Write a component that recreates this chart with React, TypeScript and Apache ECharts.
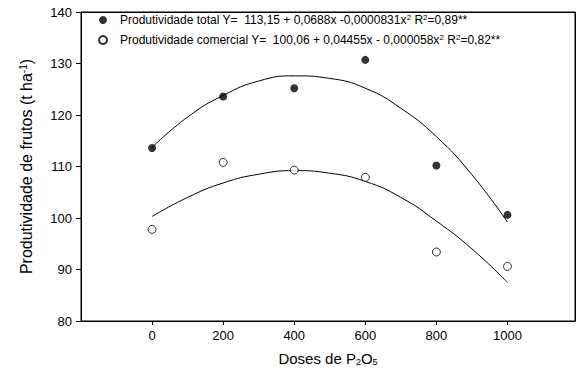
import React, { useEffect, useRef } from "react";
import * as echarts from "echarts";

const FONT = "'Liberation Sans', Arial, sans-serif";

const doses = [0, 200, 400, 600, 800, 1000];
const totalObs = [113.6, 123.6, 125.2, 130.7, 110.2, 100.6];
const comercialObs = [97.8, 110.8, 109.3, 107.9, 93.4, 90.6];

const curveX = [0, 100, 200, 300, 400, 500, 600, 700, 800, 900, 1000];
const totalCurve = [113.7, 119.6, 123.8, 126.6, 127.6, 127.1, 125.2, 121.3, 115.8, 108.4, 99.2];
const comercialCurve = [100.3, 104.0, 106.8, 108.5, 109.2, 108.7, 107.1, 104.0, 99.4, 94.0, 87.5];

const xTicks = [0, 200, 400, 600, 800, 1000];
const yTicks = [80, 90, 100, 110, 120, 130, 140];

const NAME_TOTAL = "Produtividade total";
const NAME_COM = "Produtividade comercial";
const legendTotal = "{t|Produtividade total Y=  113,15 + 0,0688x -0,0000831x}{s|2}{t| R}{s|2}{t|=0,89**}";
const legendCom = "{t|Produtividade comercial Y=  100,06 + 0,04455x - 0,000058x}{s|2}{t| R}{s|2}{t|=0,82**}";

export default function App() {
  const ref = useRef<HTMLDivElement>(null);
  useEffect(() => {
    if (!ref.current) return;
    const chart = echarts.init(ref.current, null, { renderer: "svg" });
    const pair = (xs: number[], ys: number[]) => xs.map((x, i) => [x, ys[i]]);
    chart.setOption({
      animation: false,
      backgroundColor: "#fff",
      textStyle: { fontFamily: FONT, color: "#000" },
      grid: { left: 81, right: 8, top: 12, bottom: 55, show: true, borderColor: "#000", borderWidth: 1, containLabel: false },
      legend: {
        orient: "vertical",
        left: 93,
        top: 8,
        itemWidth: 24,
        itemHeight: 8,
        itemGap: 7,
        data: [NAME_TOTAL, NAME_COM],
        formatter: (name: string) => (name === NAME_TOTAL ? legendTotal : legendCom),
        textStyle: {
          fontFamily: FONT,
          color: "#000",
          rich: {
            t: { fontSize: 12, lineHeight: 14, fontFamily: FONT, color: "#000" },
            s: { fontSize: 8, lineHeight: 14, verticalAlign: "top", fontFamily: FONT, color: "#000" },
          },
        },
      },
      xAxis: [
        {
          type: "value",
          min: -200,
          max: 1190,
          interval: 200,
          name: "Doses de P{sub|2}O{sub|5}",
          nameLocation: "middle",
          nameGap: 29,
          nameTextStyle: {
            fontSize: 15,
            fontFamily: FONT,
            color: "#000",
            rich: {
              sub: { fontSize: 9, verticalAlign: "bottom", fontFamily: FONT, color: "#000", padding: [7, 0, 0, 0] },
            },
          },
          axisLine: { show: true, onZero: false, lineStyle: { color: "#000", width: 1 } },
          axisTick: { show: true, inside: false, length: 4, customValues: xTicks, lineStyle: { color: "#000" } },
          axisLabel: {
            customValues: xTicks,
            fontSize: 13,
            color: "#000",
            fontFamily: FONT,
            margin: 8,
            formatter: (v: number) => String(v),
          },
          splitLine: { show: false },
        },
        {
          type: "value",
          position: "top",
          min: -200,
          max: 1190,
          axisLine: { show: true, onZero: false, lineStyle: { color: "#000", width: 1 } },
          axisTick: { show: false },
          axisLabel: { show: false },
          splitLine: { show: false },
        },
      ],
      yAxis: [
        {
          type: "value",
          min: 80,
          max: 140,
          interval: 10,
          name: "Produtividade de frutos (t ha{sup|-1})",
          nameLocation: "middle",
          nameGap: 47,
          nameTextStyle: {
            fontSize: 16,
            fontFamily: FONT,
            color: "#000",
            rich: {
              sup: { fontSize: 10, verticalAlign: "top", fontFamily: FONT, color: "#000" },
            },
          },
          axisLine: { show: true, onZero: false, lineStyle: { color: "#000", width: 1 } },
          axisTick: { show: true, inside: false, length: 5, customValues: yTicks, lineStyle: { color: "#000" } },
          axisLabel: { customValues: yTicks, fontSize: 13, color: "#000", fontFamily: FONT, margin: 9 },
          splitLine: { show: false },
        },
        {
          type: "value",
          position: "right",
          min: 80,
          max: 140,
          axisLine: { show: true, onZero: false, lineStyle: { color: "#000", width: 1 } },
          axisTick: { show: false },
          axisLabel: { show: false },
          splitLine: { show: false },
        },
      ],
      series: [
        {
          name: NAME_TOTAL + " fit",
          type: "line",
          data: pair(curveX, totalCurve),
          smooth: true,
          showSymbol: false,
          lineStyle: { color: "#000", width: 1 },
          z: 1,
        },
        {
          name: NAME_COM + " fit",
          type: "line",
          data: pair(curveX, comercialCurve),
          smooth: true,
          showSymbol: false,
          lineStyle: { color: "#000", width: 1 },
          z: 1,
        },
        {
          name: NAME_TOTAL,
          type: "scatter",
          data: pair(doses, totalObs),
          symbol: "circle",
          symbolSize: 8,
          itemStyle: { color: "#000" },
          z: 3,
        },
        {
          name: NAME_COM,
          type: "scatter",
          data: pair(doses, comercialObs),
          symbol: "circle",
          symbolSize: 8,
          itemStyle: { color: "#fff", borderColor: "#000", borderWidth: 1 },
          z: 3,
        },
      ],
    });
    return () => chart.dispose();
  }, []);
  return <div ref={ref} style={{ width: 583, height: 376, position: "absolute", left: 0, top: 0 }} />;
}
